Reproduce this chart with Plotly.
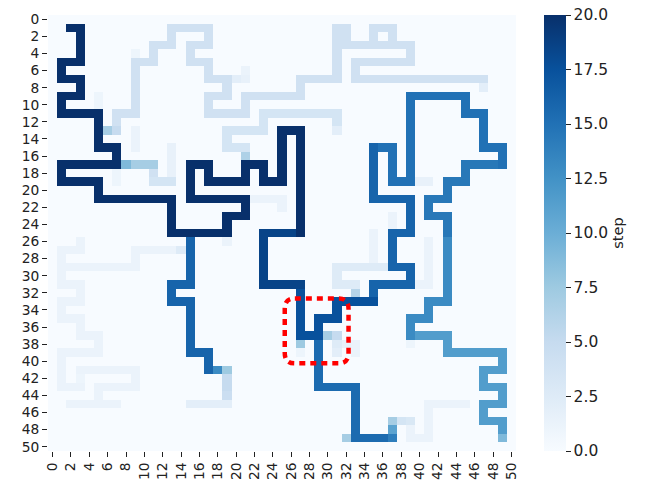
import plotly.graph_objects as go

# ---------------- data ----------------
N_ROWS = 51
N_COLS = 51
ROWS = list(range(N_ROWS))
COLS = list(range(N_COLS))
AXIS_TICKS = list(range(0, 51, 2))
CBAR_TICKS = [0, 2.5, 5, 7.5, 10, 12.5, 15, 17.5, 20]
CBAR_TICK_TEXT = ["0.0", "2.5", "5.0", "7.5", "10.0", "12.5", "15.0", "17.5", "20.0"]

# walks: waypoints (row, col) joined by straight runs, with their step value
WALK_DARK = [(1, 2), (1, 3), (5, 3), (5, 1), (7, 1), (7, 3), (9, 3), (9, 1), (11, 1), (11, 5),
             (15, 5), (15, 7), (17, 7), (17, 1), (19, 1), (19, 5), (21, 5), (21, 13), (25, 13),
             (25, 19), (23, 19), (23, 21), (21, 21), (21, 15), (17, 15), (17, 17), (19, 17),
             (19, 21), (17, 21), (17, 23), (19, 23), (19, 25), (13, 25), (13, 27), (25, 27)]
WALK_DARK_VAL = 20
WALK_B = [(25, 26), (25, 23), (31, 23), (31, 27)]
WALK_B_VAL = 18.5
WALK_C = [(31, 27), (37, 27), (37, 29), (35, 29), (35, 31), (33, 31), (33, 35)]
WALK_C_VAL = 17.5
WALK_D = [(33, 35), (31, 35), (31, 39), (29, 39), (29, 37), (25, 37), (25, 39), (21, 39),
          (21, 35), (15, 35)]
WALK_D_VAL = 16
WALK_E = [(15, 35), (15, 37), (19, 37), (19, 39), (9, 39), (9, 45), (11, 45), (11, 47),
          (15, 47), (15, 49), (17, 49)]
WALK_E_VAL = 15
WALK_F = [(17, 49), (17, 45), (19, 45), (19, 43), (21, 43), (21, 41), (23, 41), (23, 43), (25, 43)]
WALK_F_VAL = 14.5
WALK_G = [(25, 43), (33, 43), (33, 41), (35, 41), (35, 39), (37, 39)]
WALK_G_VAL = 13
WALK_H = [(37, 39), (37, 43), (39, 43), (39, 49), (41, 49), (41, 47), (43, 47), (43, 49),
          (45, 49), (45, 47), (47, 47), (47, 49), (48, 49)]
WALK_H_VAL = 11.5
WALK_I = [(37, 29), (43, 29), (43, 33), (49, 33), (49, 36)]
WALK_I_VAL = 15.5
WALK_J = [(25, 15), (31, 15), (31, 13), (33, 13), (33, 15), (39, 15), (39, 17), (41, 17)]
WALK_J_VAL = 16

LIGHT_1 = [(13, 7), (11, 7), (11, 9), (5, 9), (5, 11), (3, 11), (3, 13), (1, 13), (1, 17),
           (3, 17), (3, 15), (5, 15), (5, 17), (7, 17), (7, 19), (9, 19), (9, 17), (11, 17),
           (11, 21), (9, 21), (9, 27), (7, 27), (7, 31), (1, 31), (1, 32), (3, 32),
           (3, 39), (5, 39), (5, 33), (7, 33), (7, 47)]
LIGHT_1_VAL = 4
LIGHT_5 = [(3, 35), (1, 35), (1, 37), (3, 37)]
LIGHT_6 = [(11, 31), (11, 23), (13, 23), (13, 19), (15, 19), (15, 21)]
LIGHT_6_VAL = 3.5

FAINT_1 = [(26, 3), (27, 3), (27, 1), (31, 1), (31, 3), (33, 3), (33, 1), (35, 1), (35, 3),
           (37, 3), (37, 5), (39, 5), (39, 1), (43, 1), (43, 3)]
FAINT_2 = [(29, 1), (29, 9), (27, 9), (27, 15)]
FAINT_3 = [(41, 3), (41, 9), (43, 9), (43, 5), (45, 5)]
FAINT_4 = [(45, 2), (45, 7)]
FAINT_5 = [(45, 15), (45, 19)]
FAINT_6 = [(25, 35), (28, 35)]
FAINT_7 = [(26, 41), (31, 41), (31, 40)]
FAINT_8 = [(45, 45), (45, 41), (49, 41), (49, 39), (47, 39)]
FAINT_9 = [(21, 22), (21, 25), (22, 25)]
FAINT_10 = [(15, 13), (18, 13)]
FAINT_11 = [(13, 9), (15, 9)]
FAINT_VAL = 1.2
PALE_1 = [(29, 31), (29, 36)]
PALE_2 = [(29, 31), (31, 31), (31, 33)]
PALE_VAL = 2.5

# single cells: (row, col, value)
CELLS = [(49, 49, 9), (49, 37, 14), (48, 37, 11), (47, 37, 7), (49, 32, 7),
         (41, 18, 13), (41, 19, 7.5), (42, 19, 5), (43, 19, 5), (44, 19, 4.5),
         (16, 21, 6.5), (13, 6, 7), (13, 7, 5), (3, 12, 4),
         (17, 8, 9), (17, 9, 7), (17, 10, 7), (17, 11, 7), (18, 11, 4),
         (19, 11, 3.5), (19, 12, 3.5), (19, 13, 3.5), (18, 7, 1), (19, 7, 1),
         (12, 31, 3.5), (13, 31, 2), (8, 47, 2), (27, 14, 2.5), (27, 15, 2.5),
         (32, 33, 6), (38, 27, 7.5), (39, 27, 1), (37, 30, 7), (37, 31, 5),
         (38, 31, 2.5), (39, 31, 2), (38, 32, 1.5), (38, 33, 1.2), (39, 33, 1.2),
         (38, 39, 1), (47, 38, 3.5), (47, 39, 3), (23, 37, 1.2), (24, 37, 1.2),
         (19, 40, 1.5), (19, 41, 1.5), (26, 19, 1.2), (6, 21, 1.2), (7, 20, 2),
         (7, 21, 1.5), (9, 5, 1), (10, 5, 1), (4, 9, 1), (29, 34, 1.2), (42, 3, 1)]

# annotation box (data units)
BOX_X = (25.3, 32.25)
BOX_Y = (32.65, 40.25)
BOX_R = (1.1, 1.2)

BLUES = ["#f7fbff", "#deebf7", "#c6dbef", "#9ecae1", "#6baed6",
         "#4292c6", "#2171b5", "#08519c", "#08306b"]

# ---------------- build grid ----------------
z = [[0.0 for _ in COLS] for _ in ROWS]


def walk(points, val):
    for (r0, c0), (r1, c1) in zip(points, points[1:]):
        for r in range(min(r0, r1), max(r0, r1) + 1):
            for c in range(min(c0, c1), max(c0, c1) + 1):
                z[r][c] = max(z[r][c], val)


for pts, v in [
    (FAINT_1, FAINT_VAL), (FAINT_2, FAINT_VAL), (FAINT_3, FAINT_VAL), (FAINT_4, FAINT_VAL),
    (FAINT_5, 2), (FAINT_6, FAINT_VAL), (FAINT_7, FAINT_VAL), (FAINT_8, FAINT_VAL),
    (FAINT_9, FAINT_VAL), (FAINT_10, 1.5), (FAINT_11, FAINT_VAL),
    (PALE_1, PALE_VAL), (PALE_2, PALE_VAL),
    (LIGHT_1, LIGHT_1_VAL), (LIGHT_5, LIGHT_1_VAL), (LIGHT_6, LIGHT_6_VAL),
    (WALK_DARK, WALK_DARK_VAL), (WALK_B, WALK_B_VAL), (WALK_C, WALK_C_VAL),
    (WALK_D, WALK_D_VAL), (WALK_E, WALK_E_VAL), (WALK_F, WALK_F_VAL),
    (WALK_G, WALK_G_VAL), (WALK_H, WALK_H_VAL), (WALK_I, WALK_I_VAL), (WALK_J, WALK_J_VAL),
]:
    walk(pts, v)

for r, c, v in CELLS:
    z[r][c] = max(z[r][c], v)

colorscale = [[i / (len(BLUES) - 1), col] for i, col in enumerate(BLUES)]

# layout geometry (pixels)
W, H = 649, 483
M_L, M_T, M_B = 48, 15, 32
PLOT_RIGHT = 516
CBAR_LEFT = 544
paper_w = W - M_L
x_dom_end = (PLOT_RIGHT - M_L) / paper_w
cbar_x = (CBAR_LEFT - M_L) / paper_w

fig = go.Figure(go.Heatmap(
    z=z, x=COLS, y=ROWS, zmin=0, zmax=20, colorscale=colorscale,
    colorbar=dict(
        thickness=22, thicknessmode="pixels", len=1, lenmode="fraction",
        x=cbar_x, xanchor="left", xpad=0, y=0.5, yanchor="middle", ypad=0,
        outlinewidth=0, tickvals=CBAR_TICKS, ticktext=CBAR_TICK_TEXT,
        ticks="outside", ticklen=5, tickwidth=1, tickcolor="#222",
        tickfont=dict(family="DejaVu Sans", size=15.5, color="#222"),
        title=dict(text="step", side="right",
                   font=dict(family="DejaVu Sans", size=14.5, color="#222")),
    ),
    hoverinfo="skip",
))

# rounded dotted box
x0, x1 = BOX_X
y0, y1 = BOX_Y
rx, ry = BOX_R
path = (f"M {x0 + rx},{y0} L {x1 - rx},{y0} Q {x1},{y0} {x1},{y0 + ry} "
        f"L {x1},{y1 - ry} Q {x1},{y1} {x1 - rx},{y1} L {x0 + rx},{y1} "
        f"Q {x0},{y1} {x0},{y1 - ry} L {x0},{y0 + ry} Q {x0},{y0} {x0 + rx},{y0} Z")
fig.add_shape(type="path", path=path, xref="x", yref="y",
              line=dict(color="#ff0000", width=4.5, dash="6px,5px"))

axis_common = dict(
    tickvals=AXIS_TICKS, ticktext=[str(t) for t in AXIS_TICKS],
    ticks="outside", ticklen=5, tickwidth=1, tickcolor="#222",
    showgrid=False, zeroline=False, showline=False, automargin=False,
    tickfont=dict(family="DejaVu Sans", size=13.8, color="#222"),
)
fig.update_xaxes(range=[-0.5, 50.5], tickangle=-90, domain=[0, x_dom_end], **axis_common)
fig.update_yaxes(range=[50.5, -0.5], domain=[0, 1], **axis_common)

fig.update_layout(
    width=W, height=H,
    margin=dict(l=M_L, r=0, t=M_T, b=M_B, pad=0),
    paper_bgcolor="white", plot_bgcolor="white",
    font=dict(family="DejaVu Sans"),
)

fig.write_html(
    "out.html",
    config={"displayModeBar": False, "staticPlot": True},
    post_script="document.body.style.margin='0';document.body.style.overflow='hidden';",
)
